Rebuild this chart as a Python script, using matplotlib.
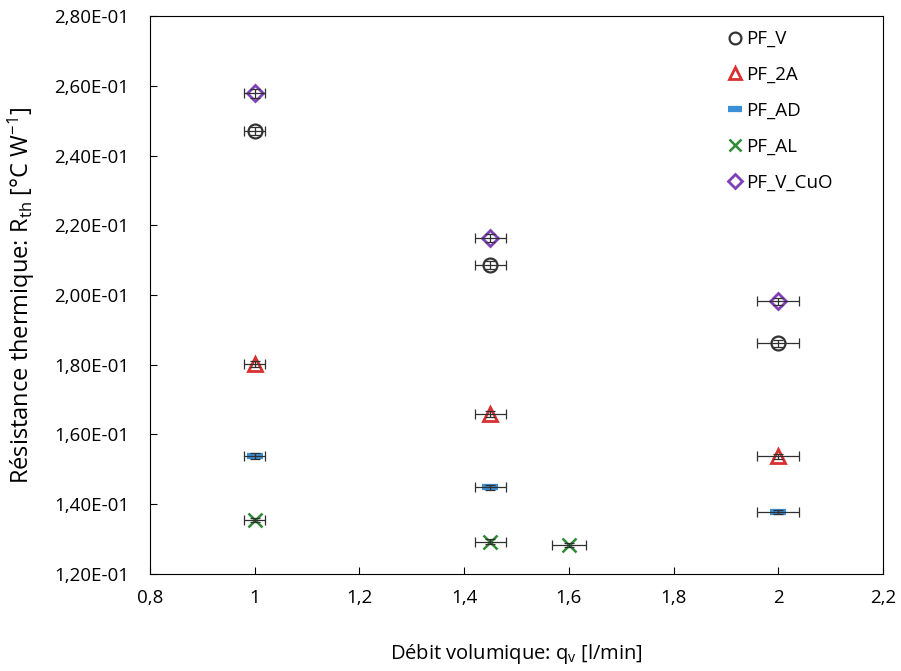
import numpy as np
import matplotlib.pyplot as plt
from matplotlib.lines import Line2D

plt.rcParams['font.family'] = ['Open Sans', 'DejaVu Sans']
plt.rcParams['mathtext.fontset'] = 'custom'
plt.rcParams['mathtext.rm'] = 'Open Sans'
plt.rcParams['mathtext.it'] = 'Open Sans:italic'

# Données
q_main = [1.0, 1.45, 2.0]
q_al = [1.0, 1.45, 1.6]

pf_v = [0.2470, 0.2086, 0.1861]
pf_2a = [0.1802, 0.1658, 0.1537]
pf_ad = [0.1538, 0.1448, 0.1378]
pf_al = [0.1355, 0.1293, 0.1283]
pf_v_cuo = [0.2578, 0.2164, 0.1982]

series = [
    ('PF_V', q_main, pf_v, 'o', '#333333'),
    ('PF_2A', q_main, pf_2a, '^', '#d93030'),
    ('PF_AD', q_main, pf_ad, '_', '#3b8fd6'),
    ('PF_AL', q_al, pf_al, 'x', '#2f8a36'),
    ('PF_V_CuO', q_main, pf_v_cuo, 'D', '#8040b8'),
]

x_ticks = [0.8, 1.0, 1.2, 1.4, 1.6, 1.8, 2.0, 2.2]
y_ticks = [0.12, 0.14, 0.16, 0.18, 0.20, 0.22, 0.24, 0.26, 0.28]

fig = plt.figure(figsize=(9.01, 6.71), dpi=100)
ax = fig.add_axes([0.1665, 0.1446, 0.8135, 0.8315])

styles = {
    'o': dict(markersize=10, mew=1.6, mfc='none'),
    '^': dict(markersize=10, mew=2, mfc='none'),
    '_': dict(markersize=12, mew=4.5),
    'x': dict(markersize=10, mew=1.8),
    'D': dict(markersize=8, mew=2, mfc='none'),
}

handles = []
for name, xs, ys, mk, col in series:
    xs = np.array(xs)
    ys = np.array(ys)
    ax.plot(xs, ys, linestyle='none', marker=mk, color=col, zorder=3,
            **styles[mk])
    ax.errorbar(xs, ys, xerr=0.02 * xs, yerr=0.005 * ys, fmt='none',
                ecolor='#303030', elinewidth=0.9, capsize=3.5, capthick=0.9,
                zorder=4)
    handles.append(Line2D([], [], linestyle='none', marker=mk, color=col,
                          **{k: (v * 0.85 if k == 'markersize' else v)
                             for k, v in styles[mk].items()}))

ax.set_xlim(0.8, 2.2)
ax.set_ylim(0.12, 0.28)
ax.set_xticks(x_ticks)
ax.set_xticklabels(['0,8', '1', '1,2', '1,4', '1,6', '1,8', '2', '2,2'])
ax.set_yticks(y_ticks)
ax.set_yticklabels([('%.2fE-01' % (v * 10)).replace('.', ',') for v in y_ticks])
ax.tick_params(direction='in', length=5, labelsize=13.5, top=False, right=False)
ax.tick_params(axis='x', pad=11)
ax.tick_params(axis='y', pad=15)

ax.set_xlabel('Débit volumique: q$_{\\mathrm{v}}$ [l/min]', fontsize=14.5, labelpad=25)
ax.set_ylabel('Résistance thermique: R$_{\\mathrm{th}}$ [°C W$^{\\mathrm{-1}}$]',
              fontsize=17, labelpad=12)

ax.legend(handles, [s[0] for s in series], loc='upper right', frameon=False,
          fontsize=13.5, handlelength=0.6, handletextpad=0.3, labelspacing=0.95,
          bbox_to_anchor=(0.955, 1.005))

fig.savefig('out.png', dpi=100)
